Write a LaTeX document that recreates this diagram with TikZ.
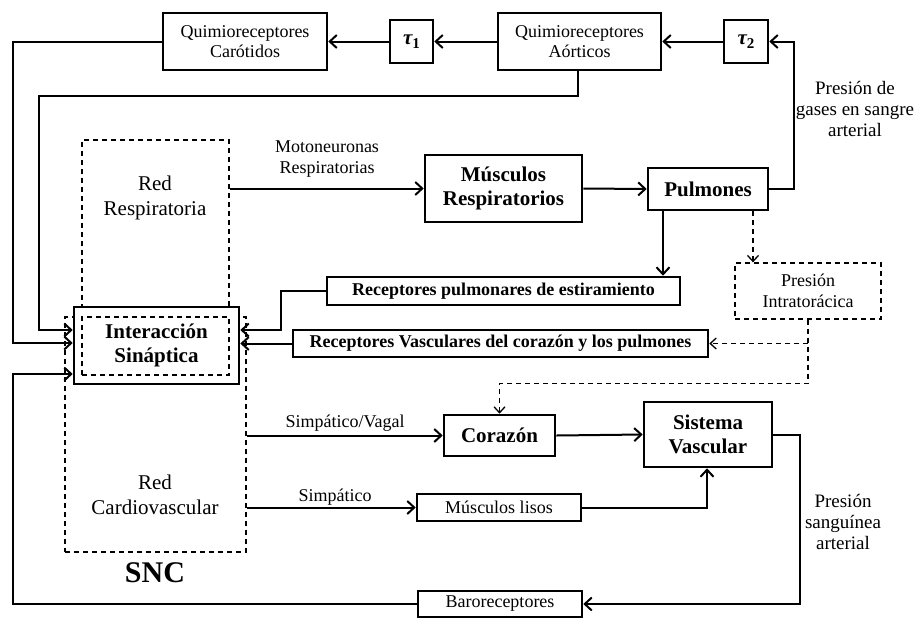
\documentclass[tikz,border=0pt]{standalone}
\usepackage{fontspec}
\setmainfont{Liberation Serif}
\usepackage{tikz}
\usetikzlibrary{arrows.meta,positioning,calc}

\newcommand{\taubox}[1]{{\bfseries\itshape τ}{\raisebox{-0.35ex}{\fontsize{15}{15}\selectfont\bfseries #1}}}

\begin{document}
\begin{tikzpicture}[
  x=1pt, y=-1pt,
  blk/.style={draw, line width=2.6pt, align=center, inner sep=0pt,
              font=\fontsize{18}{20}\selectfont},
  bblk/.style={blk, font=\fontsize{18}{20}\selectfont\bfseries},
  bigblk/.style={blk, font=\fontsize{21}{24}\selectfont\bfseries},
  dbox/.style={draw, dashed, line width=1.3pt, dash pattern=on 5pt off 4pt,
               inner sep=0pt},
  arr/.style={-{Straight Barb[length=7pt,width=13pt]}, line width=2pt},
  darr/.style={-{Straight Barb[length=6pt,width=11pt]}, line width=1.3pt,
               dash pattern=on 5pt off 4pt},
  lab/.style={align=center, inner sep=0pt, font=\fontsize{18}{21}\selectfont},
  netlab/.style={align=center, inner sep=0pt, font=\fontsize{21}{25}\selectfont}
]
\useasboundingbox (0,0) rectangle (921,619);

% Quimioreceptores y retardos
\node[blk, minimum width=164, minimum height=57] (carot) at (245,41.5) {Quimioreceptores\\Carótidos};
\node[bigblk, minimum width=43, minimum height=43] (tau1) at (411.5,41.5) {\taubox{1}};
\node[blk, minimum width=163, minimum height=57] (aort) at (579.5,41.5) {Quimioreceptores\\Aórticos};
\node[bigblk, minimum width=44, minimum height=43] (tau2) at (746,41.5) {\taubox{2}};

% SNC
\node[dbox, minimum width=147, minimum height=235] (resp) at (155.5,257.5) {};
\node[dbox, minimum width=181, minimum height=235] (card) at (155.5,434.5) {};
\node[netlab] (resplab) at (155,198) {Red\\Respiratoria};
\node[netlab] (cardlab) at (155,495) {Red\\Cardiovascular};
\node[font=\fontsize{30}{30}\selectfont\bfseries] (snc) at (155,573) {SNC};
\node[bigblk, fill=white, minimum width=165, minimum height=77] (inter) at (156.5,345.5) {Interacción\\Sináptica};
\node[dbox, minimum width=147, minimum height=58] (interin) at (155.5,346) {};

% Sistema respiratorio
\node[bigblk, minimum width=157, minimum height=67] (musc) at (503.5,188.5) {Músculos\\Respiratorios};
\node[bigblk, minimum width=120, minimum height=42] (pulm) at (708,189) {Pulmones};
\node[bblk, minimum width=353, minimum height=28] (rpul) at (503.5,291) {Receptores pulmonares de estiramiento};
\node[bblk, minimum width=415, minimum height=27] (rvas) at (500.5,343.5) {Receptores Vasculares del corazón y los pulmones};
\node[dbox, align=center, font=\fontsize{18}{21}\selectfont, minimum width=146, minimum height=56] (intra) at (808,291) {Presión\\Intratorácica};

% Sistema cardiovascular
\node[bigblk, minimum width=111, minimum height=41] (coraz) at (499.5,435.5) {Corazón};
\node[bigblk, minimum width=128, minimum height=65] (sisv) at (708,434.5) {Sistema\\Vascular};
\node[blk, minimum width=164, minimum height=27] (mlisos) at (499,507.5) {Músculos lisos};
\node[blk, minimum width=164, minimum height=26] (baro) at (500,604) {Baroreceptores};

% Etiquetas
\node[lab] (motolab) at (327,159) {Motoneuronas\\Respiratorias};
\node[lab] (vagallab) at (345,423) {Simpático/Vagal};
\node[lab] (simplab) at (335,497) {Simpático};
\node[lab, font=\fontsize{19}{21}\selectfont] (gaslab) at (855,109) {Presión de\\gases en sangre\\arterial};
\node[lab, font=\fontsize{19}{21}\selectfont] (sanglab) at (843,522) {Presión\\sanguínea\\arterial};

\coordinate (xa) at (13,0);
\coordinate (xb) at (39,0);

% Lazo quimiorreceptor
\draw[arr] (tau2.west) -- (aort.east);
\draw[arr] (aort.west) -- (tau1.east);
\draw[arr] (tau1.west) -- (carot.east);
\draw[arr] (pulm.east) -- ++(25,0) |- (tau2.east);
\draw[arr] (carot.west) -- (carot.west -| xa) |- ([yshift=2.5pt]inter.west);
\draw[arr] ([xshift=-1.5pt]aort.south) -- ++(0,25) -| ([yshift=15.5pt]inter.west -| xb) -- ([yshift=15.5pt]inter.west);

% Lazo respiratorio
\draw[arr] (resp.east |- musc.west) -- (musc.west);
\draw[arr] (musc.east) -- (pulm.west);
\draw[arr] ([xshift=-45pt]pulm.south) -- ([xshift=-45pt]pulm.south |- rpul.north);
\draw[darr] ([xshift=45pt]pulm.south) -- ([xshift=45pt]pulm.south |- intra.north);
\draw[arr] (rpul.west) -- ++(-45,0) |- ([yshift=15.5pt]inter.east);
\draw[arr] (rvas.west) -- (rvas.west -| inter.east);
\draw[darr] (intra.south) -- ++(0,64) -| (coraz.north);
\draw[darr] (intra.south |- rvas.east) -- (rvas.east);

% Lazo cardiovascular
\draw[arr] (card.east |- coraz.west) -- (coraz.west);
\draw[arr] (card.east |- mlisos.west) -- (mlisos.west);
\draw[arr] (coraz.east) -- (sisv.west);
\draw[arr] (mlisos.east) -| ([xshift=-1pt]sisv.south);
\draw[arr] (sisv.east) -- ++(27,0) |- (baro.east);
\draw[arr] (baro.west) -- (baro.west -| xa) |- ([yshift=-28.5pt]inter.west);
\end{tikzpicture}
\end{document}
